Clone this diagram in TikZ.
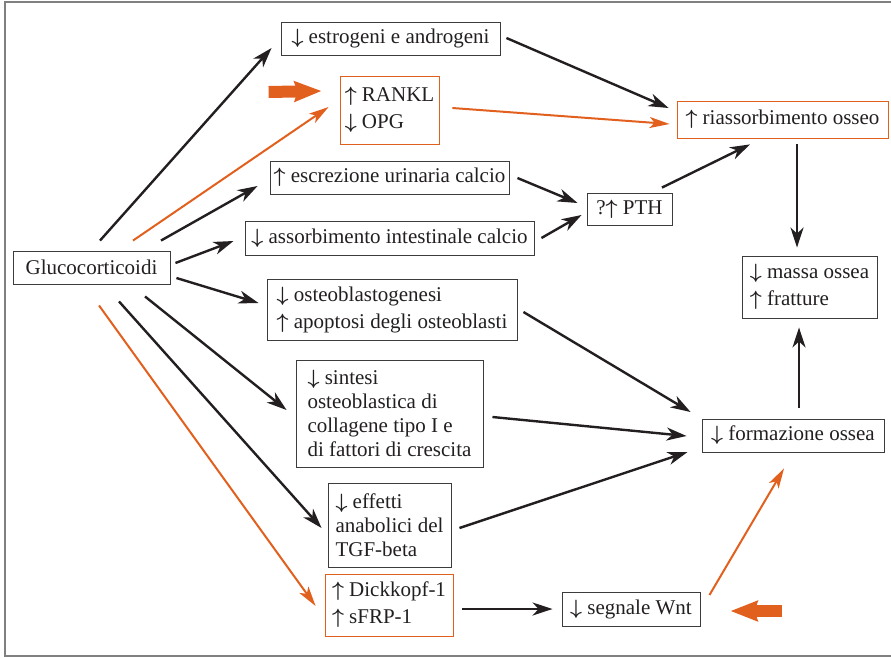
\documentclass[tikz,border=0pt]{standalone}
\usepackage{amsmath}
\usepackage{fontspec}
\setmainfont{Liberation Serif}
\usetikzlibrary{arrows.meta,calc}
\definecolor{gcorange}{RGB}{226,96,30}
\definecolor{gcblack}{RGB}{35,31,32}
\definecolor{gcgray}{RGB}{60,60,60}
\definecolor{framegray}{RGB}{128,128,128}
\newcommand{\gcup}{$\boldsymbol{\uparrow}$}
\newcommand{\gcdn}{$\boldsymbol{\downarrow}$}

\begin{document}
\begin{tikzpicture}[%
        x=1pt, y=-1pt,
        every node/.style={draw=gcgray, line width=0.9pt, inner sep=0pt, align=left, text=gcblack, font=\fontsize{21}{27}\selectfont},
        obox/.style={draw=gcorange, line width=0.8pt},
        tight/.style={font=\fontsize{21}{24}\selectfont},
        blk/.style={draw=gcblack, line width=2.4pt, -{Stealth[length=20pt,width=13pt,inset=6pt]}},
        org/.style={draw=gcorange, line width=2pt, -{Stealth[length=20pt,width=11pt,inset=5pt]}},
        bigarrow/.style={draw=gcorange, line width=12pt, -{Stealth[length=27pt,width=20pt,inset=3pt]}}
      ]
      \useasboundingbox (0,0) rectangle (891,657);
      \draw[framegray, line width=1.5pt] (5,2) rectangle (900,656);
      \node [minimum width=157pt, minimum height=33pt] (0) at (91.5,267.5) {Glucocorticoidi};
      \node [minimum width=219pt, minimum height=33pt] (1) at (390.5,38.5) {\gcdn{} estrogeni e androgeni};
      \node [obox, minimum width=99pt, minimum height=68pt] (2) at (389.5,110) {\gcup{} RANKL\\\gcdn{} OPG};
      \node [minimum width=239pt, minimum height=33pt] (3) at (389.5,177.5) {\gcup{} escrezione urinaria calcio};
      \node [minimum width=289pt, minimum height=34pt] (4) at (389.5,238) {\gcdn{} assorbimento intestinale calcio};
      \node [minimum width=250pt, minimum height=61pt] (5) at (392,309.5) {\gcdn{} osteoblastogenesi\\\gcup{} apoptosi degli osteoblasti};
      \node [tight, minimum width=187pt, minimum height=107pt] (6) at (389.5,413.5) {\gcdn{} sintesi\\osteoblastica di\\collagene tipo I e\\di fattori di crescita};
      \node [tight, minimum width=123pt, minimum height=84pt] (7) at (389.5,525) {\gcdn{} effetti\\anabolici del\\TGF-beta};
      \node [obox, minimum width=128pt, minimum height=62pt] (8) at (389,605) {\gcup{} Dickkopf-1\\\gcup{} sFRP-1};
      \node [minimum width=85pt, minimum height=32pt] (9) at (629.5,209) {?\gcup{} PTH};
      \node [obox, minimum width=211pt, minimum height=37pt] (10) at (782.5,119.5) {\gcup{} riassorbimento osseo};
      \node [minimum width=138pt, minimum height=34pt] (11) at (631,609) {\gcdn{} segnale Wnt};
      \node [minimum width=182pt, minimum height=33pt] (12) at (793,435.5) {\gcdn{} formazione ossea};
      \node [minimum width=135pt, minimum height=62pt] (13) at (809.5,287) {\gcdn{} massa ossea\\\gcup{} fratture};
      \path [draw] ($(0.north)+(8.5,-10)$) edge[blk] ($(1.west)+(-9,9.5)$)
      ($(0.north)+(41.5,-10)$) edge[org] ($(2.west)+(-11,-3)$)
      ($(0.north)+(69.5,-10)$) edge[blk] ($(3.west)+(-12,8.5)$)
      ($(0.east)+(5,-4.5)$) edge[blk] ($(4.west)+(-11,3)$)
      ($(0.east)+(6,10.5)$) edge[blk] ($(5.west)+(-8,-6.5)$)
      ($(0.south)+(53.5,12)$) edge[blk] ($(6.west)+(-9,-3.5)$)
      ($(0.south)+(27.5,17)$) edge[blk] ($(7.west)+(-6,3)$)
      ($(0.south)+(7.5,21)$) edge[org] ($(8.west)+(-9,1)$)
      ($(1.east)+(6,-0.5)$) edge[blk] ($(10.west)+(-8,-11.5)$)
      ($(2.east)+(13,-2)$) edge[org] ($(10.west)+(-7,4.5)$)
      ($(3.east)+(8,0.5)$) edge[blk] ($(9.west)+(-9,-6)$)
      ($(4.east)+(7,0)$) edge[blk] ($(9.west)+(-5,6)$)
      ($(9.north)+(32.5,-5)$) edge[blk] ($(10.south)+(-32.5,6)$)
      ($(10.south)+(14.5,6)$) edge[blk] ($(13.north)+(-12.5,-8)$)
      ($(12.north)+(6,-11)$) edge[blk] ($(13.south)+(-10.5,9)$)
      ($(5.east)+(6,2.5)$) edge[blk] ($(12.west)+(-11,-23.5)$)
      ($(6.east)+(9,3.5)$) edge[blk] ($(12.west)+(-15,0.5)$)
      ($(7.east)+(8,3)$) edge[blk] ($(12.west)+(-14,16.5)$)
      ($(8.east)+(9,4)$) edge[blk] ($(11.west)+(-9,0)$)
      ($(11.east)+(9,-14)$) edge[org] ($(12.south)+(-9,16)$);
      \draw[bigarrow] ($(2.west)+(-71,-18)$) -- ($(2.west)+(-18,-19)$);
      \draw[bigarrow] ($(11.east)+(82,2)$) -- ($(11.east)+(30,2)$);
    \end{tikzpicture}
\end{document}
